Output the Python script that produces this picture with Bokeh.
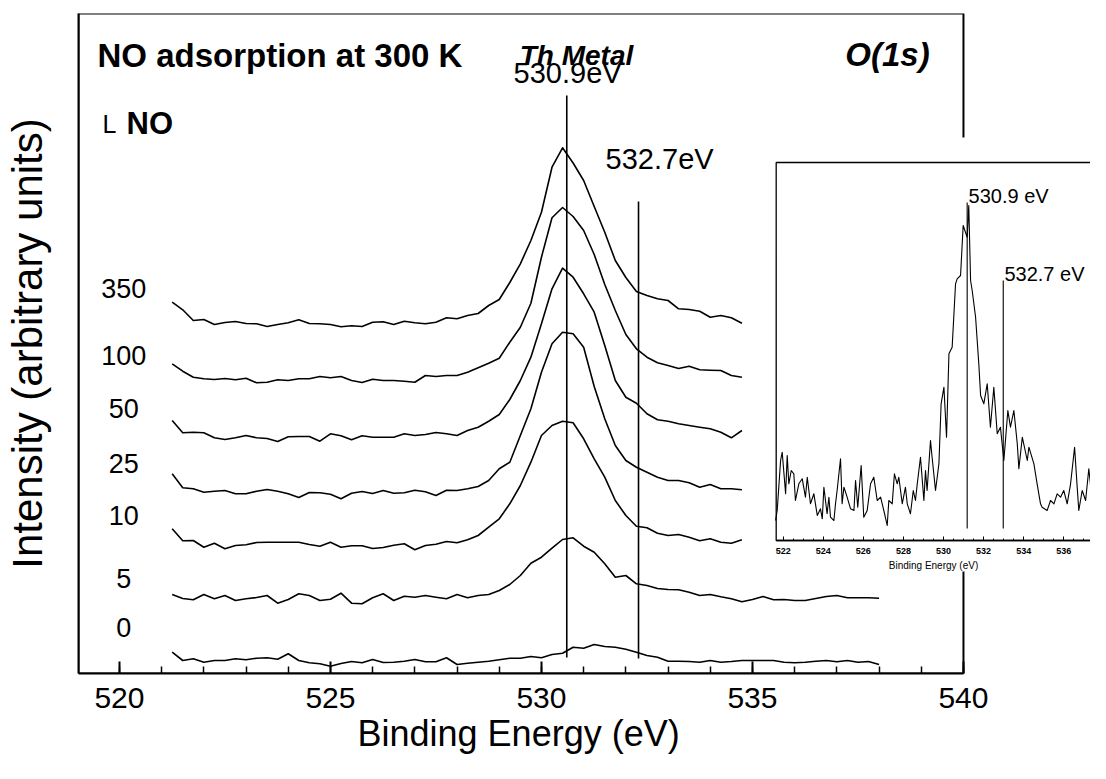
import numpy as np
from bokeh.plotting import figure
from bokeh.models import (Range1d, LinearAxis, SingleIntervalTicker, FixedTicker,
                          BoxAnnotation, Label, Title)
from bokeh.embed import file_html
from bokeh.resources import INLINE

FONT = "Liberation Sans"

# ---------------- data: main panel (offset spectra, arbitrary units) ----------------
energy_short = [round(521.25 + 0.25 * k, 2) for k in range(55)]   # 521.25 .. 534.75 eV
energy_long = [round(521.25 + 0.25 * k, 2) for k in range(68)]    # 521.25 .. 538.00 eV

i_350 = [371.3, 363.7, 353, 354, 349, 351, 352, 350, 349.7, 347, 349, 350.7, 353.7, 350, 349.7,
         349, 346.7, 347.7, 347, 351.3, 351.7, 349, 352.3, 350.7, 349.7, 351.3, 355.7, 354.7, 358,
         360, 368, 374, 391, 409.7, 433, 461.3, 506.3, 525.7, 510.5, 493, 467, 441.3, 413, 396,
         382, 378, 374.7, 373, 364.7, 364, 362.3, 356.3, 358, 355.7, 350.3]
i_100 = [309.7, 302.3, 296.3, 294.7, 294, 295, 293.7, 295.3, 290.7, 291.3, 293.7, 293, 294.7,
         294.7, 297, 295.7, 297, 293, 291, 294.3, 293, 293, 292.3, 291.3, 298, 297, 298, 298,
         301.3, 305.7, 310.3, 315.3, 331.3, 346.3, 370.3, 416.3, 455.7, 466, 457, 443, 419, 389,
         363, 339, 324.7, 316.3, 310.7, 308, 305, 307.3, 303.7, 303.3, 303, 298, 296.3]
i_50 = [253, 240.7, 241.3, 240.7, 235.7, 234, 235.7, 238, 235.7, 235, 232, 236.7, 237, 237, 232.3,
        239.7, 237.7, 233.7, 237.7, 236.3, 236.3, 236.3, 239.7, 238, 239, 241, 239.7, 238, 243,
        246.3, 252.3, 259, 274, 293, 316.3, 349.7, 384.7, 405.3, 396.3, 379.7, 361.3, 328, 293,
        276.3, 270.3, 259.7, 253.7, 252.3, 249.7, 248, 246.3, 244.7, 241.3, 235.7, 243]
i_25 = [199.7, 185.7, 184.7, 181.3, 182.3, 183, 179.7, 179.7, 182.3, 184, 182.3, 179.7, 176, 181,
        180.7, 179.3, 174.7, 180.3, 182, 180, 183, 180.3, 180.7, 183.3, 181.7, 178, 183.3, 183,
        184.7, 187, 193, 204.7, 211.3, 238, 264.7, 301.3, 329.7, 341.3, 339.7, 326.3, 287, 254.7,
        228, 213, 206.3, 201.3, 196.3, 193, 193, 190.7, 186.3, 189, 184.7, 184.7, 183.7]
i_10 = [144.7, 132.7, 133, 126.3, 130.3, 124.7, 128, 128.7, 131, 131.3, 131.3, 131.3, 131.3, 129,
        127.3, 131.3, 126.3, 127.7, 127.7, 125, 126, 128.3, 129.7, 123.7, 128, 129.3, 132, 130.7,
        133.7, 138, 146.3, 154.7, 169.7, 188, 211.3, 238, 248, 252.3, 250.7, 234.7, 214.7, 196.3,
        173, 158, 147.3, 145.7, 140.3, 138, 139, 136.3, 132.7, 134.7, 131.3, 130.3, 133.7]
i_5 = [79, 75, 73.7, 79, 74.7, 78, 73, 74.7, 76, 78, 70.3, 74, 79.7, 78, 73, 74.3, 80.3, 70.3, 69.7,
       75.7, 79.7, 73, 77.3, 76.3, 78, 76.3, 74.7, 79, 75.7, 78, 79, 83, 89, 98, 110.3, 116.3, 125.3,
       134, 135.7, 127.3, 121.3, 109.7, 96.3, 98, 89.7, 88, 85, 84, 83.7, 81.3, 78, 79, 76.7, 74.7,
       71.7, 74, 77, 73.7, 74, 73, 73, 75, 77, 78, 75.7, 75.7, 75.7, 75.3]
i_0 = [21.3, 13, 14.7, 11.3, 13, 13, 14.7, 13.7, 15.3, 15.7, 14.3, 19.7, 13, 10.7, 9.7, 7.3, 10, 12,
       10.7, 14, 11, 11.3, 12.3, 14, 11.7, 11.7, 15.7, 9, 10.3, 11.3, 12.3, 13.7, 15.3, 15.3, 17,
       15.7, 19, 20.3, 26.3, 25.3, 29, 27, 26.3, 24.3, 21.3, 18, 16.3, 12.3, 12.3, 12, 11.3, 13,
       11.3, 12, 13, 13, 13, 13, 11.3, 10.7, 11.3, 12.3, 13, 11.7, 13, 11.3, 12, 9]

exposures = ["350", "100", "50", "25", "10", "5", "0"]
exposure_label_y = [385, 318, 265, 210, 158, 95, 46]

peak_pos = [530.6, 532.3]
peak_top = [578, 472]
peak_bottom = [16, 15]
peak_text = ["530.9eV", "532.7eV"]
peak_text_x = [530.62, 532.80]
peak_text_y = [601, 515]

# ---------------- data: inset (single spectrum) ----------------
inset_energy = [521.62, 521.70, 521.87, 521.95, 522.12, 522.20, 522.28, 522.40, 522.53, 522.61,
                522.78, 522.95, 523.11, 523.20, 523.36, 523.53, 523.70, 523.86, 523.95, 524.03,
                524.19, 524.28, 524.36, 524.53, 524.61, 524.69, 524.86, 524.94, 525.03, 525.19,
                525.36, 525.53, 525.61, 525.72, 525.89, 526.02, 526.19, 526.36, 526.52, 526.69,
                526.86, 527.02, 527.19, 527.27, 527.44, 527.55, 527.69, 527.77, 527.94, 528.10,
                528.19, 528.35, 528.49, 528.60, 528.69, 528.85, 529.02, 529.10, 529.18, 529.35,
                529.43, 529.60, 529.77, 529.88, 530.02, 530.15, 530.27, 530.43, 530.60, 530.68,
                530.85, 530.98, 531.18, 531.26, 531.35, 531.43, 531.60, 531.76, 531.85, 532.01,
                532.18, 532.34, 532.51, 532.68, 532.84, 533.01, 533.09, 533.21, 533.34, 533.51,
                533.68, 533.76, 533.93, 534.18, 534.26, 534.51, 534.67, 534.84, 534.92, 535.17,
                535.34, 535.51, 535.67, 535.84, 536.00, 536.17, 536.34, 536.54, 536.67, 536.75,
                536.92, 537.09, 537.25, 537.42, 537.59, 537.75, 537.92, 538.09]
inset_intensity = [20, 30, 80, 88.3, 46.7, 85, 56.7, 70, 66.7, 40,
                   56.7, 61.7, 43.3, 63.3, 36.7, 46.7, 25, 31.7, 21.7, 53.3,
                   26.7, 43.3, 23.3, 20, 36.7, 50, 81.7, 36.7, 53.3, 43.3,
                   31.7, 30, 60, 33.3, 75, 23.3, 30, 56.7, 63.3, 40,
                   43.3, 30, 15, 40, 36.7, 66.7, 56.7, 63.3, 36.7, 53.3,
                   36.7, 26.7, 50, 40, 56.7, 83.3, 40, 70, 50, 100,
                   83.3, 50, 76.7, 136.7, 153.3, 103.3, 186.7, 193.3, 256.7, 261.7,
                   265, 315, 303.3, 335, 260, 250, 223.3, 176.7, 145, 136.7,
                   156.7, 113.3, 153.3, 106.7, 113.3, 80, 100, 130, 113.3, 130,
                   96.7, 71.7, 103.3, 80, 93.3, 76.7, 56.7, 36.7, 33.3, 30,
                   40, 36.7, 46.7, 43.3, 50, 36.7, 56.7, 93.3, 53.3, 30,
                   50, 40, 71.7, 40, 46.7, 33.3, 60, 36.7]
inset_peak_pos = [531.18, 532.98]
inset_peak_top = [338, 260]
inset_peak_bottom = [12, 12]
inset_peak_text = ["530.9 eV", "532.7 eV"]
inset_peak_text_x = [531.25, 533.04]
inset_peak_text_y = [345, 267]

# ---------------- figure ----------------
x_start = 519.03      # left edge of main box
x_box_end = 540.0     # right edge of main box
x_frame_end = 543.01  # frame continues to the canvas edge (inset sits there)
y_top = 660

p = figure(width=1090, height=763, output_backend="svg", toolbar_location=None,
           x_range=Range1d(x_start, x_frame_end), y_range=Range1d(0, y_top),
           min_border_left=78, min_border_right=0, min_border_top=13, min_border_bottom=90,
           background_fill_color="white", border_fill_color="white")
p.outline_line_color = None
p.xgrid.visible = False
p.ygrid.visible = False

p.extra_x_ranges = {"ix": Range1d(486.835, 537.334)}
p.extra_y_ranges = {"iy": Range1d(-133, 527)}

# main x axis
xa = p.xaxis[0]
xa.ticker = SingleIntervalTicker(interval=5, num_minor_ticks=5)
xa.bounds = (x_start, x_box_end)
xa.axis_line_width = 2
xa.major_tick_in = 12
xa.major_tick_out = 0
xa.minor_tick_in = 7
xa.minor_tick_out = 0
xa.major_tick_line_width = 2
xa.minor_tick_line_width = 1.5
xa.major_label_text_font = FONT
xa.major_label_text_font_size = "30px"
xa.major_label_text_color = "black"
xa.major_label_standoff = 14
xa.axis_label = None

# x-axis title, centred under the main box (not under the wider frame)
p.add_layout(Title(text="Binding Energy (eV)", align="left", offset=279, standoff=0,
                   text_font=FONT, text_font_size="36px", text_font_style="normal",
                   text_color="black"), "below")

# main y axis (no ticks)
ya = p.yaxis[0]
ya.ticker = FixedTicker(ticks=[])
ya.axis_line_width = 2
ya.major_tick_line_color = None
ya.minor_tick_line_color = None
ya.major_tick_out = 0
ya.minor_tick_out = 0
ya.major_label_text_font_size = "0px"
ya.axis_label = "Intensity (arbitrary units)"
ya.axis_label_text_font = FONT
ya.axis_label_text_font_size = "42px"
ya.axis_label_text_font_style = "normal"
ya.axis_label_text_color = "black"
ya.axis_label_standoff = 28

# main box outline (drawn lowest so the inset paper hides it)
p.add_layout(BoxAnnotation(left=x_start, right=x_box_end, bottom=0, top=y_top,
                           fill_color=None, line_color="black", line_alpha=1, line_width=2,
                           level="image"))

# spectra
for vals, en in [(i_350, energy_short), (i_100, energy_short), (i_50, energy_short),
                 (i_25, energy_short), (i_10, energy_short), (i_5, energy_long), (i_0, energy_long)]:
    p.line(en, vals, line_color="black", line_width=1.6, line_join="round")

p.segment(x0=peak_pos, y0=peak_bottom, x1=peak_pos, y1=peak_top, line_color="black", line_width=1.6)

for t, x, y in zip(peak_text, peak_text_x, peak_text_y):
    p.add_layout(Label(x=x, y=y, text=t, text_font=FONT, text_font_size="29px",
                       text_align="center", text_baseline="middle", text_color="black"))

for t, y in zip(exposures, exposure_label_y):
    p.add_layout(Label(x=520.10, y=y, text=t, text_font=FONT, text_font_size="27px",
                       text_align="center", text_baseline="middle", text_color="black"))

p.add_layout(Label(x=519.48, y=618, text="NO adsorption at 300 K", text_font=FONT,
                   text_font_size="33px", text_font_style="bold", text_baseline="alphabetic",
                   text_color="black"))
p.add_layout(Label(x=530.83, y=618, text="Th Metal", text_font=FONT, text_font_size="28px",
                   text_font_style="bold italic", text_align="center", text_baseline="alphabetic",
                   text_color="black"))
p.add_layout(Label(x=538.20, y=619, text="O(1s)", text_font=FONT, text_font_size="33px",
                   text_font_style="bold italic", text_align="center", text_baseline="alphabetic",
                   text_color="black"))
p.add_layout(Label(x=519.60, y=550, text="L", text_font=FONT, text_font_size="25px",
                   text_baseline="alphabetic", text_color="black"))
p.add_layout(Label(x=520.17, y=550, text="NO", text_font=FONT, text_font_size="31px",
                   text_font_style="bold", text_baseline="alphabetic", text_color="black"))

# ---------------- inset ----------------
p.add_layout(BoxAnnotation(left=521.27, right=540, bottom=-31, top=403, fill_color="white",
                           fill_alpha=1, line_color=None, level="underlay",
                           x_range_name="ix", y_range_name="iy"))
p.add_layout(BoxAnnotation(left=521.65, right=540, bottom=0, top=378, fill_color=None,
                           line_color="black", line_alpha=1, line_width=1.3, level="underlay",
                           x_range_name="ix", y_range_name="iy"))

iax = LinearAxis(x_range_name="ix", y_range_name="iy", fixed_location=0,
                 ticker=SingleIntervalTicker(interval=2, num_minor_ticks=4),
                 bounds=(521.65, 538.3))
iax.axis_line_width = 1.3
iax.major_tick_in = 4
iax.major_tick_out = 0
iax.minor_tick_in = 2
iax.minor_tick_out = 0
iax.major_label_text_font = FONT
iax.major_label_text_font_size = "9px"
iax.major_label_text_font_style = "bold"
iax.major_label_text_color = "black"
iax.major_label_standoff = 7
iax.axis_label = "Binding Energy (eV)"
iax.axis_label_text_font = FONT
iax.axis_label_text_font_size = "10px"
iax.axis_label_text_font_style = "normal"
iax.axis_label_text_color = "black"
iax.axis_label_standoff = 3
p.add_layout(iax, "below")

p.line(inset_energy, inset_intensity, x_range_name="ix", y_range_name="iy",
       line_color="black", line_width=1.1, line_join="round")
p.segment(x0=inset_peak_pos, y0=inset_peak_bottom, x1=inset_peak_pos, y1=inset_peak_top,
          x_range_name="ix", y_range_name="iy", line_color="black", line_width=1.1)
for t, x, y in zip(inset_peak_text, inset_peak_text_x, inset_peak_text_y):
    p.add_layout(Label(x=x, y=y, text=t, text_font=FONT, text_font_size="20px",
                       text_align="left", text_baseline="middle", text_color="black",
                       x_range_name="ix", y_range_name="iy"))

open("out.html", "w").write(file_html(p, INLINE))
